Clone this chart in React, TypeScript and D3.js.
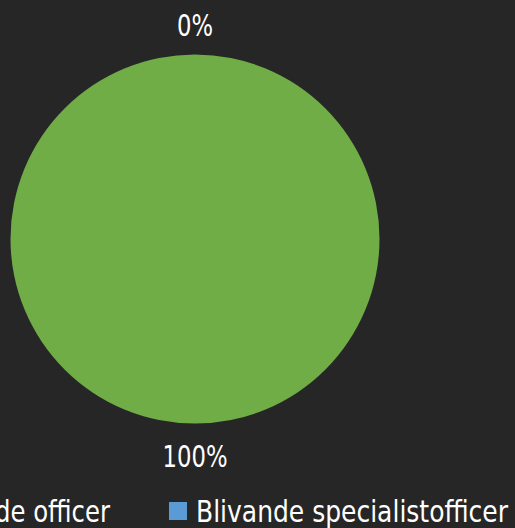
import React from "react";
import * as d3 from "d3";

const categories = ["Blivande officer", "Blivande specialistofficer"];
const values = [100, 0];
const labels = ["100%", "0%"];
const colors = ["#70AD47", "#5B9BD5"];

const W = 515;
const H = 528;
const FONT = "'DejaVu Sans Condensed', 'DejaVu Sans', sans-serif";
const FS = 30;

export default function App() {
  const cx = 195;
  const cy = 239;
  const r = 184.5;
  const labelR = 215.5;
  const pie = d3.pie<number>().sort(null).value((d) => d);
  const arcs = pie(values);
  const arc = d3.arc<d3.PieArcDatum<number>>().innerRadius(0).outerRadius(r);
  const labelArc = d3
    .arc<d3.PieArcDatum<number>>()
    .innerRadius(labelR)
    .outerRadius(labelR);
  const labelWidths = [65, 36];

  // legend layout
  const legendBase = 522;
  const sq = 18;
  const sqTop = 502;
  const item2TextX = 196;
  const item1TextEnd = 110;

  return (
    <svg
      width={W}
      height={H}
      style={{ position: "fixed", left: 0, top: 0, display: "block" }}
    >
      <rect x={0} y={0} width={W} height={H} fill="#262626" />
      <g transform={`translate(${cx},${cy})`}>
        {arcs.map((a, i) => (
          <path key={i} d={arc(a) || ""} fill={colors[i]} />
        ))}
        {arcs.map((a, i) => {
          const [lx, ly] = labelArc.centroid(a);
          return (
            <text
              key={"l" + i}
              x={lx - labelWidths[i] / 2}
              y={ly + 12.5}
              fill="#ffffff"
              fontFamily={FONT}
              fontSize={FS}
              textLength={labelWidths[i]}
              lengthAdjust="spacingAndGlyphs"
            >
              {labels[i]}
            </text>
          );
        })}
      </g>
      <g>
        <rect
          x={item1TextEnd - 190 - 27}
          y={sqTop}
          width={sq}
          height={sq}
          fill={colors[0]}
        />
        <text
          x={item1TextEnd - 190}
          y={legendBase}
          fill="#ffffff"
          fontFamily={FONT}
          fontSize={FS}
          textLength={190}
          lengthAdjust="spacingAndGlyphs"
        >
          {categories[0]}
        </text>
        <rect
          x={item2TextX - 27}
          y={sqTop}
          width={sq}
          height={sq}
          fill={colors[1]}
        />
        <text
          x={item2TextX}
          y={legendBase}
          fill="#ffffff"
          fontFamily={FONT}
          fontSize={FS}
          textLength={312}
          lengthAdjust="spacingAndGlyphs"
        >
          {categories[1]}
        </text>
      </g>
    </svg>
  );
}
